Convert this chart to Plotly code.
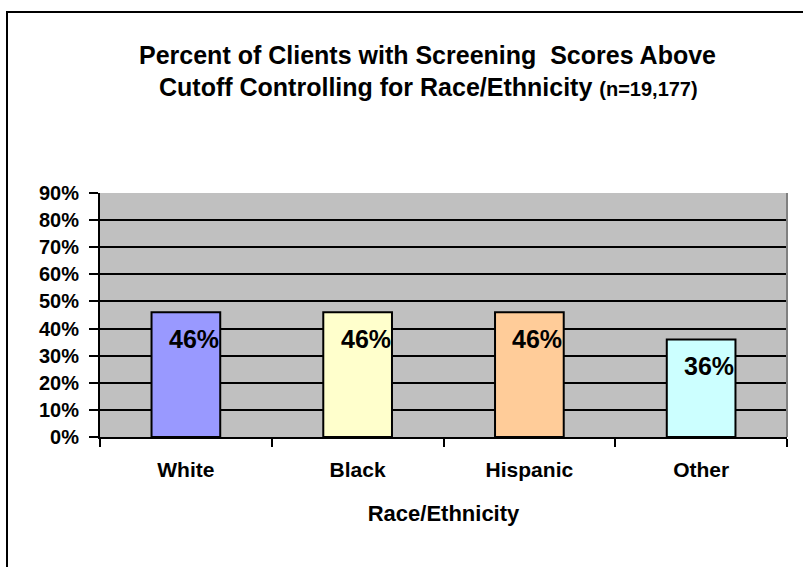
import plotly.graph_objects as go

categories = ["White", "Black", "Hispanic", "Other"]
values = [0.46, 0.46, 0.46, 0.36]
value_labels = ["46%", "46%", "46%", "36%"]
bar_colors = ["#9999FF", "#FFFFCC", "#FFCC99", "#CCFFFF"]
y_ticks = [0, 0.1, 0.2, 0.3, 0.4, 0.5, 0.6, 0.7, 0.8, 0.9]
y_tick_labels = ["0%", "10%", "20%", "30%", "40%", "50%", "60%", "70%", "80%", "90%"]

FONT = "Liberation Sans, Arial, sans-serif"
W, H = 803, 567
ML, MR, MT, MB = 100, 16, 193, 130
PW, PH = W - ML - MR, H - MT - MB


def px_x(p):
    return (p - ML) / PW


def px_y(p):
    return (H - MB - p) / PH


fig = go.Figure()
fig.add_trace(go.Bar(
    x=categories, y=values,
    marker=dict(color=bar_colors, line=dict(color="black", width=2)),
    width=0.4,
    hoverinfo="skip",
))

for c, v, t in zip(categories, values, value_labels):
    fig.add_annotation(x=c, y=v, text=t, showarrow=False, xref="x", yref="y",
                       xanchor="center", yanchor="middle", xshift=8, yshift=-27,
                       font=dict(family=FONT, size=25, color="black", weight="bold"))

fig.add_annotation(x=px_x(427), y=px_y(55), xref="paper", yref="paper", showarrow=False,
                   text="Percent of Clients with Screening  Scores Above",
                   xanchor="center", yanchor="middle",
                   font=dict(family=FONT, size=25, color="black", weight="bold"))
fig.add_annotation(x=px_x(428), y=px_y(87), xref="paper", yref="paper", showarrow=False,
                   text="Cutoff Controlling for Race/Ethnicity <span style='font-size:20px'>(n=19,177)</span>",
                   xanchor="center", yanchor="middle",
                   font=dict(family=FONT, size=25, color="black", weight="bold"))

# outer chart border
fig.add_shape(type="rect", xref="paper", yref="paper",
              x0=px_x(7), x1=px_x(815), y0=px_y(580), y1=px_y(12),
              line=dict(color="black", width=2), fillcolor="rgba(0,0,0,0)", layer="above")
# right plot border (gray)
fig.add_shape(type="line", xref="paper", yref="paper", x0=1, x1=1, y0=0, y1=1,
              line=dict(color="#808080", width=2))

fig.update_layout(
    width=W, height=H,
    margin=dict(l=ML, r=MR, t=MT, b=MB, pad=0),
    paper_bgcolor="white",
    plot_bgcolor="#C0C0C0",
    showlegend=False,
    bargap=0.6,
    xaxis=dict(
        type="category",
        showgrid=False, zeroline=False,
        showline=True, linecolor="black", linewidth=2,
        ticks="outside", ticklen=8, tickwidth=2, tickcolor="black",
        tickson="boundaries",
        ticklabelstandoff=13,
        tickfont=dict(family=FONT, size=21, color="black", weight="bold"),
        title=dict(text="Race/Ethnicity", standoff=25,
                   font=dict(family=FONT, size=22, color="black", weight="bold")),
    ),
    yaxis=dict(
        range=[0, 0.9],
        tickvals=y_ticks, ticktext=y_tick_labels,
        showgrid=True, gridcolor="black", gridwidth=2,
        zeroline=False,
        showline=True, linecolor="black", linewidth=2,
        ticks="outside", ticklen=9, tickwidth=2, tickcolor="black",
        ticklabelstandoff=6,
        tickfont=dict(family=FONT, size=20, color="black", weight="bold"),
    ),
)

fig.write_html("out.html", config={"displayModeBar": False},
               post_script="document.body.style.margin='0';document.body.style.overflow='hidden';")
